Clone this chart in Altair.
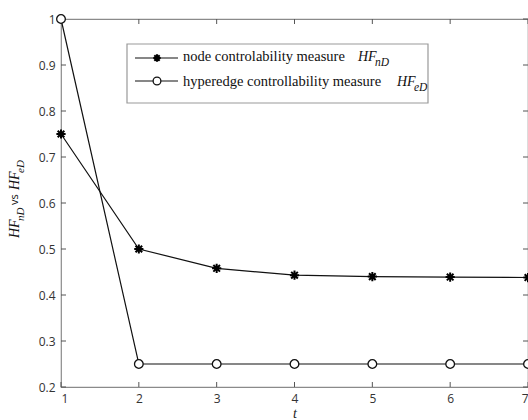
import altair as alt
import pandas as pd

t_vals = [1, 2, 3, 4, 5, 6, 7]
node_vals = [0.75, 0.50, 0.458, 0.443, 0.440, 0.439, 0.438]
edge_vals = [1.00, 0.25, 0.25, 0.25, 0.25, 0.25, 0.25]
y_ticks = [0.2, 0.3, 0.4, 0.5, 0.6, 0.7, 0.8, 0.9, 1.0]

W, H = 467, 368
LINE = "#111111"
SPINE = "#8a8a8a"
SERIF = "Liberation Serif"
SANS = "Open Sans"

node_df = pd.DataFrame({"t": t_vals, "v": node_vals, "s": "node"})
edge_df = pd.DataFrame({"t": t_vals, "v": edge_vals, "s": "edge"})
df = pd.concat([node_df, edge_df])

xs = alt.Scale(domain=[1, 7], nice=False, zero=False)
ys = alt.Scale(domain=[0.2, 1.0], nice=False, zero=False)

x_axis = alt.Axis(values=t_vals, format="d", grid=False, domain=False, ticks=False,
                  labelFont=SANS, labelFontSize=12, labelColor="#333", labelPadding=6,
                  title="t", titleFont=SERIF, titleFontStyle="italic", titleFontWeight="normal",
                  titleFontSize=14, titleColor="#222", titlePadding=2)
y_axis = alt.Axis(values=y_ticks, grid=False, domain=False, ticks=False,
                  labelFont=SANS, labelFontSize=12, labelColor="#333", labelPadding=6,
                  labelExpr="datum.value == 1 ? '1' : format(datum.value, '.1f')",
                  title=None)

star = "M0,-1L0,1M-1,0L1,0M-0.72,-0.72L0.72,0.72M-0.72,0.72L0.72,-0.72"

lines = alt.Chart(df).mark_line(color=LINE, strokeWidth=1.2, clip=False).encode(
    x=alt.X("t:Q", scale=xs, axis=x_axis),
    y=alt.Y("v:Q", scale=ys, axis=y_axis),
    detail="s:N",
)
node_pts = alt.Chart(node_df).mark_point(shape=star, size=85, filled=False, stroke="#000",
                                         strokeWidth=2, opacity=1, clip=False).encode(
    x=alt.X("t:Q", scale=xs), y=alt.Y("v:Q", scale=ys))
edge_pts = alt.Chart(edge_df).mark_point(shape="circle", size=75, filled=True, fill="white",
                                         stroke=LINE, strokeWidth=1.3, opacity=1, clip=False).encode(
    x=alt.X("t:Q", scale=xs), y=alt.Y("v:Q", scale=ys))

tdf = pd.DataFrame({"t": t_vals})
ydf = pd.DataFrame({"y": y_ticks})
tick_x_bot = alt.Chart(tdf).mark_rule(color="#555", strokeWidth=1).encode(
    x=alt.X("t:Q", scale=xs), y=alt.value(H), y2=alt.value(H - 5))
tick_x_top = alt.Chart(tdf).mark_rule(color="#555", strokeWidth=1).encode(
    x=alt.X("t:Q", scale=xs), y=alt.value(0), y2=alt.value(5))
tick_y_l = alt.Chart(ydf).mark_rule(color="#555", strokeWidth=1).encode(
    y=alt.Y("y:Q", scale=ys), x=alt.value(0), x2=alt.value(5))
tick_y_r = alt.Chart(ydf).mark_rule(color="#555", strokeWidth=1).encode(
    y=alt.Y("y:Q", scale=ys), x=alt.value(W - 5), x2=alt.value(W))

one = pd.DataFrame({"a": [0]})
box = alt.Chart(one).mark_rect(fill="white", stroke="#999", strokeWidth=1.2).encode(
    x=alt.value(66), x2=alt.value(367), y=alt.value(25), y2=alt.value(84))

r1, r2 = 39, 62
leg_l1 = alt.Chart(one).mark_rule(color=LINE, strokeWidth=1.2).encode(
    x=alt.value(74), x2=alt.value(117), y=alt.value(r1))
leg_l2 = alt.Chart(one).mark_rule(color=LINE, strokeWidth=1.2).encode(
    x=alt.value(74), x2=alt.value(117), y=alt.value(r2))
leg_p1 = alt.Chart(one).mark_point(shape=star, size=55, filled=False, stroke="#000",
                                   strokeWidth=2, opacity=1).encode(x=alt.value(96), y=alt.value(r1))
leg_p2 = alt.Chart(one).mark_point(shape="circle", size=60, filled=True, fill="white",
                                   stroke=LINE, strokeWidth=1.3, opacity=1).encode(
    x=alt.value(96), y=alt.value(r2))


def txt(s, x, y, size=14.5, font=SERIF, style="normal", angle=0, align="left", baseline="middle"):
    kw = dict(text=s, font=font, fontSize=size, fontStyle=style, color="#111",
              align=align, baseline=baseline)
    if angle:
        kw["angle"] = angle
    return alt.Chart(one).mark_text(**kw).encode(x=alt.value(x), y=alt.value(y))


texts = [
    txt("node controlability measure", 122, r1 - 1),
    txt("HF", 297, r1 - 1, size=14, style="italic"),
    txt("nD", 314, r1 + 5, size=11.5, style="italic"),
    txt("hyperedge controllability measure", 122, r2 + 1),
    txt("HF", 336, r2 + 1, size=14, style="italic"),
    txt("eD", 353, r2 + 7, size=11.5, style="italic"),
    # rotated y-axis title
    txt("HF", -46, 219, size=14, angle=270, style="italic"),
    txt("nD", -40, 202, size=11, angle=270, style="italic"),
    txt("vs", -46, 186, size=11, font=SANS, angle=270),
    txt("HF", -46, 171, size=14, angle=270, style="italic"),
    txt("eD", -40, 154, size=11, angle=270, style="italic"),
]

chart = alt.layer(
    tick_x_bot, tick_x_top, tick_y_l, tick_y_r,
    lines, node_pts, edge_pts,
    box, leg_l1, leg_l2, leg_p1, leg_p2, *texts,
).properties(
    width=W, height=H,
    autosize=alt.AutoSizeParams(type="none"),
    padding={"left": 61, "top": 19, "right": 0, "bottom": 33},
    background="white",
).configure_view(stroke=SPINE, strokeWidth=1.2)

chart.save("out.html", embed_options={"renderer": "svg", "actions": False})
